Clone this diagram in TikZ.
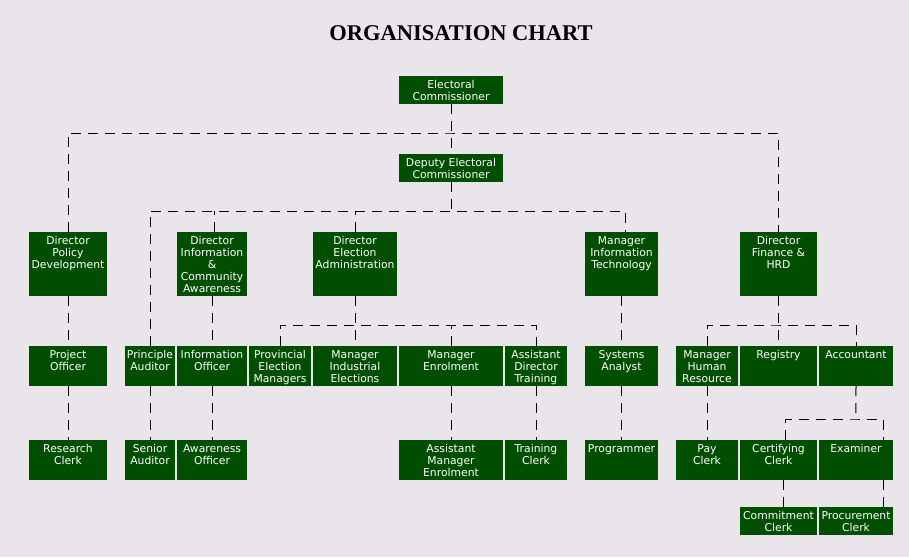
\documentclass[tikz,border=0pt]{standalone}
\usepackage{fontspec}
\newfontfamily\titlefont{Liberation Serif}
\newfontfamily\postfont{DejaVu Sans}
\usepackage{tikz}
\usetikzlibrary{fit, positioning}
\definecolor{paper}{RGB}{234,229,234}
\definecolor{postgreen}{RGB}{0,78,0}

\tikzset{
  post/.style = {draw=none, fill=postgreen, inner sep=0pt},
  txt/.style = {text=white, align=center, inner sep=4.5pt, anchor=north,
                font=\postfont\fontsize{10.8}{12}\selectfont,
                execute at begin node={\vphantom{Ahdl}}},
  link/.style = {draw=black, line width=1pt, dash pattern=on 10pt off 7pt}
}

\begin{document}
\begin{tikzpicture}[x=1pt, y=-1pt]
\fill[paper] (0,0) rectangle (909,557);
\useasboundingbox (0,0) rectangle (909,557);
\node[font=\titlefont\bfseries\fontsize{22.5}{26}\selectfont, anchor=base] (title) at (461,40.7) {ORGANISATION CHART};
% top
\node[post, fit={(399,76) (503,104)}] (ec) {};
\node[txt] (ec-t) at (ec.north) {Electoral\\Commissioner};
\node[post, fit={(399,154) (503,182)}] (dec) {};
\node[txt] (dec-t) at (dec.north) {Deputy Electoral\\Commissioner};
% directors
\node[post, fit={(29,232) (107,296)}] (dpd) {};
\node[txt] (dpd-t) at (dpd.north) {Director\\Policy\\Development};
\node[post, fit={(177,232) (247,296)}] (dica) {};
\node[txt] (dica-t) at (dica.north) {Director\\Information\\\&\\Community\\Awareness};
\node[post, fit={(313,232) (397,296)}] (dea) {};
\node[txt] (dea-t) at (dea.north) {Director\\Election\\Administration};
\node[post, fit={(585,232) (658,296)}] (mit) {};
\node[txt] (mit-t) at (mit.north) {Manager\\Information\\Technology};
\node[post, fit={(740,232) (817,296)}] (dfh) {};
\node[txt] (dfh-t) at (dfh.north) {Director\\Finance \&\\HRD};
% second row
\node[post, fit={(29,346) (107,386)}] (po) {};
\node[txt] (po-t) at (po.north) {Project\\Officer};
\node[post, fit={(125,346) (175,386)}] (pa) {};
\node[txt] (pa-t) at (pa.north) {Principle\\Auditor};
\node[post, fit={(177,346) (247,386)}] (io) {};
\node[txt] (io-t) at (io.north) {Information\\Officer};
\node[post, fit={(249,346) (311,386)}] (pem) {};
\node[txt] (pem-t) at (pem.north) {Provincial\\Election\\Managers};
\node[post, fit={(313,346) (397,386)}] (mie) {};
\node[txt] (mie-t) at (mie.north) {Manager\\Industrial\\Elections};
\node[post, fit={(399,346) (503,386)}] (me) {};
\node[txt] (me-t) at (me.north) {Manager\\Enrolment};
\node[post, fit={(505,346) (567,386)}] (adt) {};
\node[txt] (adt-t) at (adt.north) {Assistant\\Director\\Training};
\node[post, fit={(585,346) (658,386)}] (sys) {};
\node[txt] (sys-t) at (sys.north) {Systems\\Analyst};
\node[post, fit={(676,346) (738,386)}] (mhr) {};
\node[txt] (mhr-t) at (mhr.north) {Manager\\Human\\Resource};
\node[post, fit={(740,346) (817,386)}] (reg) {};
\node[txt] (reg-t) at (reg.north) {Registry};
\node[post, fit={(819,346) (893,386)}] (acc) {};
\node[txt] (acc-t) at (acc.north) {Accountant};
% third row
\node[post, fit={(29,440) (107,480)}] (rc) {};
\node[txt] (rc-t) at (rc.north) {Research\\Clerk};
\node[post, fit={(125,440) (175,480)}] (sa) {};
\node[txt] (sa-t) at (sa.north) {Senior\\Auditor};
\node[post, fit={(177,440) (247,480)}] (ao) {};
\node[txt] (ao-t) at (ao.north) {Awareness\\Officer};
\node[post, fit={(399,440) (503,480)}] (ame) {};
\node[txt] (ame-t) at (ame.north) {Assistant\\Manager\\Enrolment};
\node[post, fit={(505,440) (567,480)}] (tc) {};
\node[txt] (tc-t) at (tc.north) {Training\\Clerk};
\node[post, fit={(585,440) (658,480)}] (prog) {};
\node[txt] (prog-t) at (prog.north) {Programmer};
\node[post, fit={(676,440) (738,480)}] (pay) {};
\node[txt] (pay-t) at (pay.north) {Pay\\Clerk};
\node[post, fit={(740,440) (817,480)}] (cc) {};
\node[txt] (cc-t) at (cc.north) {Certifying\\Clerk};
\node[post, fit={(819,440) (893,480)}] (ex) {};
\node[txt] (ex-t) at (ex.north) {Examiner};
% fourth row
\node[post, fit={(740,507) (817,535)}] (cmc) {};
\node[txt] (cmc-t) at (cmc.north) {Commitment\\Clerk};
\node[post, fit={(819,507) (893,535)}] (pc) {};
\node[txt] (pc-t) at (pc.north) {Procurement\\Clerk};
% lines
\coordinate (bus1) at (451,133);
\coordinate (bus2) at (451,211);
\coordinate (bus3) at (354.8,325);
\coordinate (bus4) at (778.3,325);
\coordinate (bus5) at (855.8,419);
\draw[link] (ec.south) -- (dec.north);
\draw[link] (dpd.north) |- (bus1) -| (dfh.north);
\draw[link] (dec.south) -- (bus2);
\draw[link] (pa.north) |- (bus2) -| ([xshift=3.5pt]mit.north);
\draw[link] ([xshift=2.5pt]dica.north) -- ([xshift=2.5pt]dica.north |- bus2);
\draw[link] (dea.north) -- (dea.north |- bus2);
\draw[link] (dpd.south) -- (po.north);
\draw[link] (po.south) -- (rc.north);
\draw[link] (dica.south) -- (io.north);
\draw[link] (io.south) -- (ao.north);
\draw[link] (pa.south) -- (sa.north);
\draw[link] (dea.south) -- (mie.north);
\draw[link] (pem.north) |- (bus3) -| (adt.north);
\draw[link] (me.north) -- (me.north |- bus3);
\draw[link] (me.south) -- (ame.north);
\draw[link] (adt.south) -- (tc.north);
\draw[link] (mit.south) -- (sys.north);
\draw[link] (sys.south) -- (prog.north);
\draw[link] (dfh.south) -- (reg.north);
\draw[link] (mhr.north) |- (bus4) -| (acc.north);
\draw[link] (mhr.south) -- (pay.north);
\draw[link] (acc.south) -- (bus5);
\draw[link] ([xshift=7pt]cc.north) |- (bus5) -| ([xshift=27pt]ex.north);
\draw[link] ([xshift=5pt]cc.south) -- ([xshift=5pt]cmc.north);
\draw[link] ([xshift=27.5pt]ex.south) -- ([xshift=27.5pt]pc.north);
\end{tikzpicture}
\end{document}
